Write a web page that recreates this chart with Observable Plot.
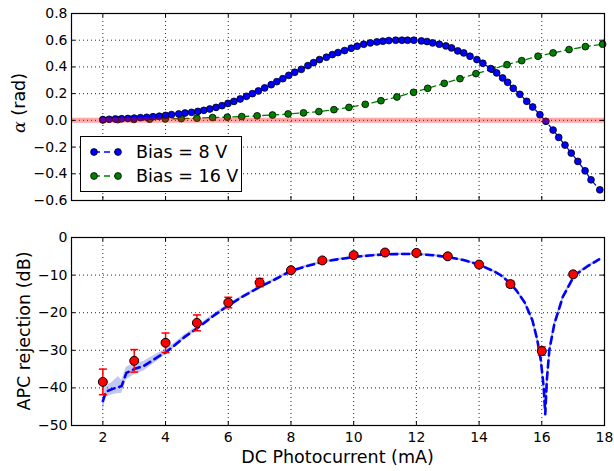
<!DOCTYPE html>
<html><head><meta charset="utf-8">
<script src="https://cdn.jsdelivr.net/npm/d3@7"></script>
<script src="https://cdn.jsdelivr.net/npm/@observablehq/plot@0.6"></script>
<style>
body{margin:0;background:#fff;}
#chart{position:relative;width:614px;height:471px;font-family:"DejaVu Sans",sans-serif;background:#fff;}
#chart > svg{position:absolute;left:0;}
.legend{position:absolute;left:80px;top:136px;width:160px;height:54px;border:1px solid #000;background:#fff;font-family:"DejaVu Sans",sans-serif;font-size:17.5px;color:#000;}
.legend .row{position:absolute;left:0;height:24px;display:flex;align-items:center;}
.legend .row span{position:absolute;left:55px;white-space:nowrap;}
</style></head><body><div id="chart"></div>
<script>
// ---- data ----
const seriesNames = ["Bias = 8 V", "Bias = 16 V"];
const bias8Current = [2.0,2.2,2.4,2.6,2.8,3.0,3.2,3.4,3.6,3.8,4.0,4.19,4.42,4.62,4.83,5.03,5.22,5.41,5.61,5.8,5.99,6.18,6.38,6.58,6.77,6.96,7.16,7.37,7.55,7.74,7.93,8.12,8.33,8.54,8.72,8.91,9.13,9.32,9.5,9.71,9.92,10.11,10.32,10.53,10.74,10.93,11.12,11.34,11.54,11.72,11.92,12.16,12.34,12.52,12.73,12.94,13.12,13.32,13.51,13.71,13.93,14.12,14.37,14.56,14.75,14.91,15.09,15.3,15.52,15.71,15.94,16.13,16.36,16.54,16.74,16.94,17.15,17.38,17.57,17.85];
const bias8Alpha = [0.006,0.008,0.010,0.012,0.014,0.017,0.020,0.023,0.027,0.031,0.037,0.043,0.048,0.055,0.060,0.067,0.075,0.085,0.097,0.110,0.127,0.142,0.160,0.180,0.200,0.220,0.243,0.267,0.290,0.312,0.337,0.360,0.382,0.410,0.432,0.455,0.4725,0.4925,0.5075,0.5225,0.54,0.555,0.57,0.58,0.5875,0.5925,0.5975,0.6,0.6,0.6,0.6,0.595,0.59,0.58,0.57,0.5575,0.5425,0.52,0.505,0.48,0.455,0.4275,0.3875,0.355,0.3175,0.285,0.24,0.195,0.1425,0.1,0.0425,-0.0075,-0.0725,-0.1275,-0.185,-0.245,-0.3075,-0.3775,-0.445,-0.52];
const bias16Current = [2.0,2.48,2.99,3.49,3.99,4.5,5.0,5.5,5.97,6.43,6.92,7.41,7.91,8.4,8.89,9.37,9.85,10.37,10.87,11.38,11.91,12.36,12.89,13.39,13.9,14.41,14.89,15.36,15.88,16.36,16.87,17.39,17.94];
const bias16Alpha = [0.003,0.005,0.007,0.009,0.011,0.013,0.016,0.021,0.024,0.028,0.034,0.04,0.048,0.056,0.066,0.08,0.097,0.12,0.147,0.175,0.21,0.24,0.277,0.312,0.35,0.382,0.417,0.447,0.48,0.505,0.53,0.552,0.57];
const apcCurrent = [2,3,4,5,6,7,8,9,10,11,12,13,14,15,16,17];
const apcRejection = [-38.4,-32.8,-28.0,-22.7,-17.3,-12.0,-8.7,-6.1,-4.7,-4.0,-4.1,-5.0,-7.2,-12.4,-30.2,-9.8];
const apcError = [3.4,3.0,2.6,2.1,1.4,1.1,0.6,0.5,0.5,0.5,0.5,0.5,0.5,0.8,1.1,0.6];
const modelCurrent = [2.0,2.1,2.3,2.5,2.6,2.75,3.0,3.3,3.6,3.9,4.0,4.3,4.6,5.0,5.5,6.0,6.5,7.0,7.5,8.0,8.5,9.0,9.5,10.0,10.5,11.0,11.5,12.0,12.5,13.0,13.5,14.0,14.5,14.7,15.0,15.2,15.45,15.7,15.85,15.97,16.06,16.11,16.16,16.24,16.4,16.67,17.04,17.45,17.83];
const modelRejection = [-43.5,-41,-40.3,-39.8,-39.5,-36,-35,-34.2,-32.6,-31,-30.6,-28.6,-26.5,-24.2,-21,-18.1,-15.5,-13.2,-11.1,-8.9,-7.6,-6.5,-5.8,-5.2,-4.8,-4.5,-4.4,-4.4,-4.7,-5.2,-6.0,-7.2,-9.1,-10.1,-12.2,-14.2,-17.2,-22,-27,-32.7,-39.8,-47,-38,-30,-23,-15.8,-10.1,-7.7,-5.8];
const modelUpper = [-40.5,-39.5,-38.5,-37.0,-38.0,-34.5,-33.5,-33.0,-31.5,-30.2,-29.8,-28.0,-25.9,-23.7,-20.55,-17.7,-15.15,-12.9,-10.8,-8.6,-7.3,-6.2,-5.5,-4.9,-4.5,-4.2,-4.1,-4.1,-4.4,-4.9,-5.7,-6.9,-8.8,-9.8,-11.85,-13.8,-16.7,-21.4,-26.2,-31.7,-38.3,-45,-36.5,-29,-22.3,-15.3,-9.7,-7.4,-5.5];
const modelLower = [-46.5,-42.5,-41.8,-41.5,-41.5,-37.8,-36.5,-35.5,-33.7,-31.8,-31.4,-29.2,-27.1,-24.7,-21.45,-18.5,-15.85,-13.5,-11.4,-9.2,-7.9,-6.8,-6.1,-5.5,-5.1,-4.8,-4.7,-4.7,-5.0,-5.5,-6.3,-7.5,-9.4,-10.4,-12.55,-14.6,-17.7,-22.6,-27.8,-33.7,-41.3,-48,-39.5,-31,-23.7,-16.3,-10.5,-8.0,-6.1];
const currentTicks = [2,4,6,8,10,12,14,16,18];
const alphaTicks = [-0.6,-0.4,-0.2,0.0,0.2,0.4,0.6,0.8];
const rejectionTicks = [-50,-40,-30,-20,-10,0];

// ---- tables ----
const bias8 = bias8Current.map((c,i)=>({current:c, alpha:bias8Alpha[i]}));
const bias16 = bias16Current.map((c,i)=>({current:c, alpha:bias16Alpha[i]}));
const apc = apcCurrent.map((c,i)=>({current:c, db:apcRejection[i], lo:apcRejection[i]-apcError[i], hi:apcRejection[i]+apcError[i]}));
const model = modelCurrent.map((c,i)=>({current:c, db:modelRejection[i], lo:modelLower[i], hi:modelUpper[i]}));

const W = 614, mL = 71, mR = 10;
const topH = 215, topMT = 13, topMB = 15;
const botH = 256, botMT = 22, botMB = 46;
const plotW = W - mL - mR;
const topPH = topH - topMT - topMB;
const botPH = botH - botMT - botMB;
const style = {fontFamily:"DejaVu Sans", fontSize:"14px", color:"#000", background:"transparent", overflow:"visible"};
const gridStyle = {stroke:"#000", strokeOpacity:0.85, strokeDasharray:"1,3", strokeWidth:1};
const capSymbol = {draw(ctx, size){ const r = Math.sqrt(size/Math.PI); ctx.moveTo(-r,0); ctx.lineTo(r,0); }};

function frameTicks(yTicks, ph){
  return [
    Plot.tickX(currentTicks, {x:d=>d, stroke:"#000", insetTop: ph-4}),
    Plot.tickX(currentTicks, {x:d=>d, stroke:"#000", insetBottom: ph-4}),
    Plot.tickY(yTicks, {y:d=>d, stroke:"#000", insetRight: plotW-4}),
    Plot.tickY(yTicks, {y:d=>d, stroke:"#000", insetLeft: plotW-4}),
    Plot.frame({stroke:"#000", strokeWidth:1.2})
  ];
}

const topPlot = Plot.plot({
  width: W, height: topH, marginLeft: mL, marginRight: mR, marginTop: topMT, marginBottom: topMB,
  style,
  x: {domain:[1,18], axis:null},
  y: {domain:[-0.6,0.8], axis:null},
  marks: [
    Plot.gridX(currentTicks, gridStyle),
    Plot.gridY(alphaTicks, gridStyle),
    Plot.line(bias16, {x:"current", y:"alpha", stroke:"#008000", strokeWidth:1.3, strokeDasharray:"6,4"}),
    Plot.dot(bias16, {x:"current", y:"alpha", r:3.4, fill:"#008000", stroke:"#000", strokeWidth:0.8}),
    Plot.line(bias8, {x:"current", y:"alpha", stroke:"#0000ff", strokeWidth:1.3, strokeDasharray:"6,4"}),
    Plot.dot(bias8, {x:"current", y:"alpha", r:3.4, fill:"#0000ff", stroke:"#000", strokeWidth:0.8}),
    Plot.ruleY([0], {stroke:"#ff0000", strokeOpacity:0.35, strokeWidth:5}),
    Plot.axisY(alphaTicks, {tickSize:0, tickPadding:4, tickFormat:d3.format(".1f"), label:null}),
    ...frameTicks(alphaTicks, topPH)
  ]
});

const botPlot = Plot.plot({
  width: W, height: botH, marginLeft: mL, marginRight: mR, marginTop: botMT, marginBottom: botMB,
  style,
  x: {domain:[1,18], axis:null},
  y: {domain:[-50,0], axis:null},
  marks: [
    Plot.gridX(currentTicks, gridStyle),
    Plot.gridY(rejectionTicks, gridStyle),
    Plot.areaY(model, {x:"current", y1:"lo", y2:"hi", fill:"#3344cc", fillOpacity:0.3}),
    Plot.line(model, {x:"current", y:"db", stroke:"#c0c0c0", strokeWidth:1.6}),
    Plot.line(model, {x:"current", y:"db", stroke:"#0000ff", strokeWidth:2.6, strokeDasharray:"7,5"}),
    Plot.ruleX(apc, {x:"current", y1:"lo", y2:"hi", stroke:"#ff0000", strokeWidth:1.5}),
    Plot.dot(apc, {x:"current", y:"lo", symbol:capSymbol, r:4, fill:"none", stroke:"#ff0000", strokeWidth:1.5}),
    Plot.dot(apc, {x:"current", y:"hi", symbol:capSymbol, r:4, fill:"none", stroke:"#ff0000", strokeWidth:1.5}),
    Plot.dot(apc, {x:"current", y:"db", r:4.5, fill:"#ff0000", stroke:"#000", strokeWidth:1}),
    Plot.axisY(rejectionTicks, {tickSize:0, tickPadding:4, tickFormat:d3.format("d"), label:null}),
    Plot.axisX(currentTicks, {tickSize:0, tickPadding:7, tickFormat:d3.format("d"), label:null}),
    ...frameTicks(rejectionTicks, botPH)
  ]
});

const chart = document.getElementById("chart");
topPlot.style.top = "0px";
botPlot.style.top = topH + "px";
chart.appendChild(topPlot);
chart.appendChild(botPlot);

// axis labels
const fs = "17.5px";
const tl = d3.select(topPlot).append("text")
  .attr("transform", "translate(25,103) rotate(-90)")
  .attr("text-anchor","middle").attr("font-size", fs).attr("fill","#000")
  .attr("font-family","DejaVu Sans");
tl.append("tspan").attr("font-family","DejaVu Serif").attr("font-style","italic").text("α");
tl.append("tspan").text(" (rad)");
d3.select(botPlot).append("text")
  .attr("transform", `translate(30,${331-topH}) rotate(-90)`)
  .attr("text-anchor","middle").attr("font-size", fs).attr("fill","#000")
  .attr("font-family","DejaVu Sans").text("APC rejection (dB)");
d3.select(botPlot).append("text")
  .attr("x", mL + plotW/2).attr("y", 463-topH)
  .attr("text-anchor","middle").attr("font-size", fs).attr("fill","#000")
  .attr("font-family","DejaVu Sans").text("DC Photocurrent (mA)");

// legend
const legend = document.createElement("div");
legend.className = "legend";
const colors = ["#0000ff", "#008000"];
seriesNames.forEach((name, i) => {
  const row = document.createElement("div");
  row.className = "row";
  row.style.top = (3 + i*24) + "px";
  row.style.width = "160px";
  row.innerHTML = `<svg width="50" height="24" style="position:absolute;left:0;top:0">
    <line x1="13" x2="37" y1="12" y2="12" stroke="${colors[i]}" stroke-width="1.3" stroke-dasharray="6,4"/>
    <circle cx="13" cy="12" r="3.4" fill="${colors[i]}" stroke="#000" stroke-width="0.8"/>
    <circle cx="37" cy="12" r="3.4" fill="${colors[i]}" stroke="#000" stroke-width="0.8"/>
  </svg><span>${name}</span>`;
  legend.appendChild(row);
});
chart.appendChild(legend);
</script></body></html>
